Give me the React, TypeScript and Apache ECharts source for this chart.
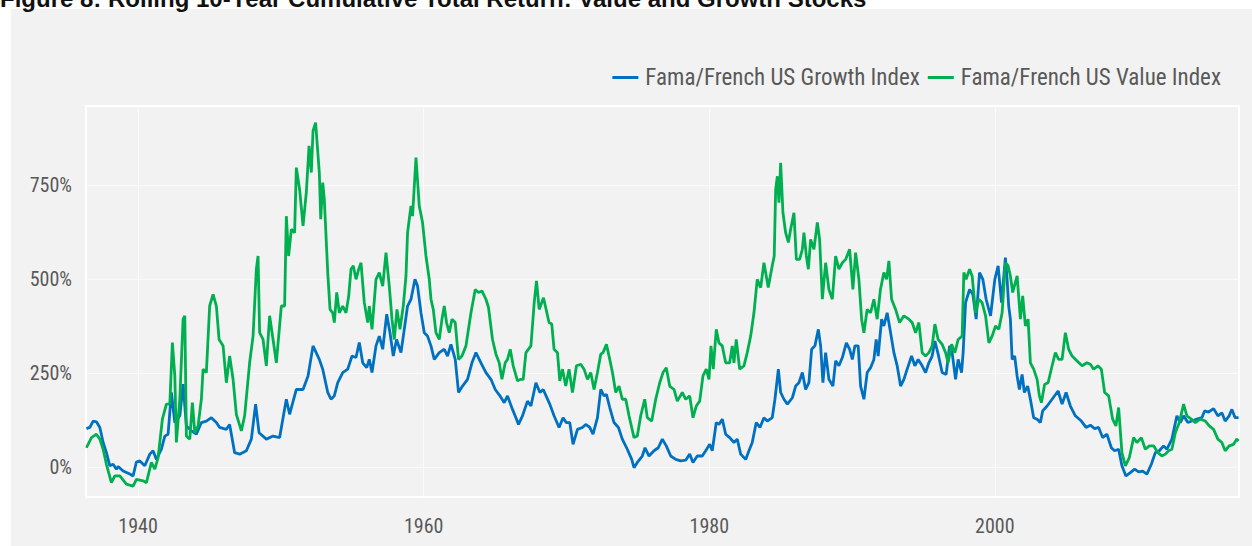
import React, { useEffect, useRef } from "react";
import * as echarts from "echarts";

const titleText = "Figure 8: Rolling 10-Year Cumulative Total Return: Value and Growth Stocks";
const seriesNames = ["Fama/French US Growth Index", "Fama/French US Value Index"];
const xTickLabels = [1940, 1960, 1980, 2000];
const yTickLabels = [0, 250, 500, 750];

// [year, rolling 10-year cumulative total return in %]
const growthIndex: [number, number][] = [
  [1936.38,102],[1936.62,105],[1936.85,122],[1937.08,120],[1937.32,105],[1937.55,65],[1937.78,38],[1938.02,3],[1938.25,7],[1938.48,-6],[1938.60,1],[1938.95,-11],[1939.42,-19],[1939.65,-24],[1939.88,13],[1940.12,16],[1940.47,3],[1940.82,34],[1941.05,43],[1941.28,20],[1941.63,47],[1941.87,82],[1942.10,87],[1942.33,198],[1942.57,118],[1942.92,136],[1943.15,220],[1943.38,109],[1943.73,96],[1944.08,87],[1944.43,118],[1944.78,122],[1945.13,131],[1945.48,118],[1945.71,105],[1946.18,100],[1946.41,113],[1946.76,38],[1947.11,34],[1947.58,43],[1947.93,74],[1948.23,167],[1948.47,91],[1948.98,74],[1949.45,82],[1949.91,78],[1950.38,180],[1950.61,140],[1951.08,206],[1951.55,206],[1951.90,242],[1952.25,322],
  [1952.69,286],[1952.93,260],[1953.28,198],[1953.51,180],[1953.74,189],[1953.98,224],[1954.33,251],[1954.68,260],[1954.98,295],[1955.26,291],[1955.49,331],[1955.73,277],[1956.01,264],[1956.19,286],[1956.38,251],[1956.66,322],[1956.89,348],[1957.13,313],[1957.41,406],[1957.64,357],[1957.87,295],[1958.10,339],[1958.41,304],[1958.64,366],[1958.87,428],[1959.11,446],[1959.39,499],[1959.57,481],[1959.81,410],[1960.04,357],[1960.27,348],[1960.51,322],[1960.74,286],[1961.09,304],[1961.44,313],[1961.67,295],[1961.91,326],[1962.21,286],[1962.44,198],[1962.72,215],[1963.07,233],[1963.38,277],[1963.66,304],[1964.01,277],[1964.36,251],[1964.71,233],[1965.01,206],[1965.34,189],[1965.64,171],[1965.87,189],[1966.22,153],[1966.46,131],[1966.64,113],[1966.92,136],[1967.27,175],[1967.51,162],[1967.86,224],[1968.14,198],[1968.37,206],
  [1968.83,167],[1969.13,136],[1969.48,105],[1969.76,131],[1969.98,118],[1970.23,118],[1970.46,60],[1970.77,100],[1971.12,105],[1971.35,113],[1971.63,105],[1971.86,87],[1972.17,131],[1972.40,206],[1972.63,189],[1972.80,193],[1973.03,158],[1973.33,118],[1973.64,105],[1973.91,74],[1974.26,47],[1974.57,20],[1974.73,-2],[1974.96,12],[1975.31,29],[1975.50,51],[1975.78,29],[1976.13,43],[1976.43,51],[1976.71,74],[1976.99,56],[1977.30,29],[1977.65,20],[1978.00,16],[1978.35,18],[1978.63,34],[1978.86,12],[1979.16,29],[1979.51,29],[1979.75,43],[1980.03,60],[1980.21,43],[1980.49,118],[1980.68,113],[1980.91,127],[1981.15,87],[1981.43,78],[1981.73,65],[1981.96,74],[1982.20,34],[1982.55,20],[1982.78,43],[1983.01,65],[1983.29,118],[1983.55,105],[1983.83,131],[1984.06,122],[1984.41,131],[1984.60,180],
  [1984.84,260],[1985.00,198],[1985.23,180],[1985.47,167],[1985.82,184],[1986.05,215],[1986.28,224],[1986.52,251],[1986.75,206],[1986.98,224],[1987.17,313],[1987.40,322],[1987.64,366],[1987.80,322],[1987.96,224],[1988.15,304],[1988.38,233],[1988.66,215],[1988.85,282],[1989.08,269],[1989.32,291],[1989.60,330],[1989.83,313],[1990.02,286],[1990.20,322],[1990.43,322],[1990.60,215],[1990.83,180],[1991.06,251],[1991.30,264],[1991.53,286],[1991.69,339],[1991.83,295],[1992.07,393],[1992.23,375],[1992.46,410],[1992.70,357],[1992.93,304],[1993.16,269],[1993.40,215],[1993.63,233],[1993.86,260],[1994.17,295],[1994.40,269],[1994.63,286],[1994.91,269],[1995.15,251],[1995.38,277],[1995.61,295],[1995.80,335],[1996.03,300],[1996.31,251],[1996.59,246],[1996.83,322],[1997.01,304],[1997.25,233],[1997.43,286],[1997.67,251],[1997.78,304],[1997.95,437],[1998.23,472],[1998.46,459],[1998.69,393],[1998.93,517],[1999.16,499],[1999.39,446],[1999.70,402],[2000.00,499],[2000.23,535],[2000.47,437],
  [2000.74,557],[2000.86,499],[2000.97,428],[2001.09,393],[2001.21,286],[2001.39,295],[2001.56,242],[2001.72,206],[2001.91,246],[2002.07,198],[2002.30,215],[2002.49,180],[2002.72,131],[2002.96,127],[2003.19,118],[2003.35,149],[2003.66,162],[2004.01,180],[2004.43,202],[2004.71,167],[2004.99,198],[2005.29,162],[2005.64,136],[2006.06,122],[2006.39,105],[2006.69,111],[2006.99,102],[2007.27,105],[2007.55,78],[2007.85,87],[2008.16,51],[2008.39,43],[2008.67,47],[2008.90,3],[2009.18,-24],[2009.49,-15],[2009.79,-6],[2010.07,-13],[2010.35,-11],[2010.65,-19],[2010.96,7],[2011.24,38],[2011.52,43],[2011.82,56],[2012.05,47],[2012.40,74],[2012.75,136],[2012.99,118],[2013.22,136],[2013.52,118],[2013.80,122],[2014.15,127],[2014.50,131],[2014.69,149],[2014.97,146],[2015.32,155],[2015.62,136],[2015.90,144],[2016.13,122],[2016.41,136],[2016.60,153],[2016.83,131],[2017.07,131]
];

const valueIndex: [number, number][] = [
  [1936.38,51],[1936.73,78],[1937.08,87],[1937.32,74],[1937.55,47],[1937.78,7],[1938.13,-42],[1938.37,-24],[1938.72,-24],[1939.18,-46],[1939.65,-51],[1939.88,-33],[1940.35,-37],[1940.58,-42],[1940.93,12],[1941.17,-6],[1941.40,25],[1941.70,127],[1941.98,167],[1942.22,167],[1942.40,331],[1942.57,242],[1942.68,65],[1942.92,180],[1943.15,393],[1943.27,402],[1943.38,82],[1943.62,74],[1943.80,171],[1943.97,91],[1944.20,109],[1944.43,180],[1944.55,260],[1944.78,251],[1945.01,428],[1945.25,459],[1945.48,428],[1945.67,339],[1945.95,322],[1946.18,224],[1946.41,295],[1946.65,233],[1946.88,140],[1947.23,96],[1947.46,136],[1947.81,277],[1948.05,348],[1948.28,526],[1948.40,561],[1948.51,357],[1948.75,339],[1948.98,269],[1949.21,402],[1949.45,339],[1949.68,277],[1950.03,428],[1950.26,428],[1950.38,667],[1950.54,561],[1950.73,632],[1950.96,623],[1951.08,796],[1951.31,738],[1951.55,641],[1951.78,730],[1951.97,854],[1952.13,783],[1952.25,894],[1952.43,916],
  [1952.69,783],[1952.79,659],[1952.93,756],[1953.04,712],[1953.28,517],[1953.44,419],[1953.63,410],[1953.74,384],[1953.91,464],[1954.09,410],[1954.33,428],[1954.56,410],[1954.75,455],[1954.91,526],[1955.07,535],[1955.26,499],[1955.45,526],[1955.61,543],[1955.84,437],[1956.08,384],[1956.19,428],[1956.38,366],[1956.66,499],[1956.89,517],[1957.13,481],[1957.36,570],[1957.59,481],[1957.78,393],[1957.94,339],[1958.13,419],[1958.34,366],[1958.57,428],[1958.76,508],[1958.87,623],[1959.11,694],[1959.22,667],[1959.46,823],[1959.69,694],[1959.92,650],[1960.16,561],[1960.39,499],[1960.51,446],[1960.67,419],[1960.86,357],[1961.09,339],[1961.28,393],[1961.44,428],[1961.60,384],[1961.79,357],[1961.98,393],[1962.21,384],[1962.44,286],[1962.68,295],[1962.96,322],[1963.31,410],[1963.61,472],[1963.84,464],[1964.08,468],[1964.36,446],[1964.54,424],[1964.82,339],[1965.06,300],[1965.29,277],[1965.48,233],[1965.71,277],[1965.87,286],[1966.06,313],[1966.27,269],[1966.57,229],[1966.81,233],[1966.97,233],[1967.16,304],[1967.51,322],[1967.74,437],[1967.90,495],[1968.09,419],[1968.39,450],
  [1968.78,384],[1968.97,380],[1969.13,313],[1969.37,304],[1969.53,229],[1969.72,260],[1969.95,215],[1970.18,260],[1970.42,198],[1970.70,269],[1971.00,273],[1971.23,260],[1971.47,233],[1971.70,251],[1971.93,206],[1972.17,251],[1972.40,300],[1972.56,304],[1972.80,326],[1973.03,286],[1973.22,251],[1973.45,198],[1973.68,215],[1973.91,180],[1974.15,180],[1974.38,136],[1974.73,78],[1974.96,82],[1975.20,136],[1975.48,180],[1975.66,131],[1975.97,122],[1976.25,180],[1976.53,224],[1976.76,251],[1976.99,264],[1977.23,215],[1977.53,206],[1977.76,175],[1978.11,198],[1978.35,180],[1978.63,189],[1978.86,131],[1979.09,162],[1979.33,175],[1979.56,242],[1979.79,260],[1979.98,233],[1980.12,322],[1980.28,260],[1980.49,366],[1980.68,330],[1980.91,322],[1981.15,277],[1981.43,277],[1981.61,322],[1981.73,277],[1981.89,339],[1982.13,260],[1982.43,269],[1982.66,304],[1982.90,348],[1983.13,410],[1983.36,499],[1983.60,477],[1983.83,543],[1984.13,477],[1984.41,535],[1984.55,561],
  [1984.65,738],[1984.77,773],[1984.88,703],[1985.00,809],[1985.16,676],[1985.35,623],[1985.54,597],[1985.70,632],[1985.93,676],[1986.10,552],[1986.33,552],[1986.52,579],[1986.63,623],[1986.80,561],[1986.94,526],[1987.10,605],[1987.33,579],[1987.57,650],[1987.73,605],[1987.92,446],[1988.15,543],[1988.38,472],[1988.62,446],[1988.85,561],[1989.08,526],[1989.32,543],[1989.55,552],[1989.83,579],[1990.06,472],[1990.25,570],[1990.48,499],[1990.67,393],[1990.83,357],[1991.06,419],[1991.30,410],[1991.53,446],[1991.76,393],[1991.99,472],[1992.23,517],[1992.42,499],[1992.58,548],[1992.77,446],[1993.05,419],[1993.33,384],[1993.63,402],[1993.98,393],[1994.21,384],[1994.45,357],[1994.68,384],[1994.91,304],[1995.15,295],[1995.38,304],[1995.61,322],[1995.80,380],[1996.03,339],[1996.31,326],[1996.55,304],[1996.73,277],[1996.97,326],[1997.20,304],[1997.43,339],[1997.71,348],[1997.83,517],[1997.99,499],[1998.23,526],[1998.41,508],[1998.65,410],[1998.88,446],[1999.11,437],[1999.35,402],[1999.58,330],[1999.81,348],[2000.05,375],[2000.28,366],[2000.51,410],
  [2000.74,543],[2000.93,535],[2001.09,508],[2001.25,464],[2001.56,508],[2001.79,393],[2001.95,455],[2002.14,375],[2002.33,393],[2002.49,277],[2002.72,260],[2002.96,233],[2003.12,189],[2003.26,171],[2003.49,220],[2003.73,224],[2004.01,269],[2004.24,304],[2004.47,286],[2004.71,286],[2004.94,357],[2005.17,313],[2005.41,295],[2005.76,282],[2006.11,269],[2006.45,277],[2006.69,273],[2006.92,260],[2007.22,269],[2007.46,260],[2007.69,198],[2007.97,189],[2008.25,127],[2008.48,109],[2008.67,158],[2008.90,38],[2009.14,3],[2009.42,25],[2009.72,78],[2009.95,65],[2010.26,78],[2010.54,47],[2010.82,56],[2011.12,56],[2011.42,38],[2011.70,29],[2011.94,34],[2012.17,43],[2012.40,47],[2012.64,91],[2012.92,118],[2013.22,167],[2013.45,136],[2013.76,127],[2014.04,118],[2014.39,127],[2014.74,122],[2015.02,109],[2015.32,100],[2015.62,74],[2015.90,65],[2016.13,43],[2016.41,56],[2016.72,60],[2016.95,74],[2017.07,69]
];

const FONT = "'Liberation Sans Narrow', 'Arial Narrow', 'Roboto Condensed', sans-serif";
const TEXT_COLOR = "#595959";

export default function App() {
  const ref = useRef<HTMLDivElement>(null);

  useEffect(() => {
    if (!ref.current) return;
    const chart = echarts.init(ref.current, null, { renderer: "svg" });
    chart.setOption({
      animation: false,
      backgroundColor: "#ffffff",
      graphic: [
        {
          type: "rect",
          z: -100,
          silent: true,
          shape: { x: 11, y: 9, width: 1252 - 11, height: 546 - 9 },
          style: { fill: "#f2f2f2" },
        },
        {
          type: "text",
          z: 10,
          x: 0,
          y: 10,
          style: {
            text: titleText,
            font: "bold 24px 'Liberation Sans', Arial, sans-serif",
            fill: "#111111",
            verticalAlign: "bottom",
          },
        },
      ],
      legend: {
        data: seriesNames,
        right: 26,
        top: 61,
        icon: "rect",
        itemWidth: 26,
        itemHeight: 3,
        itemGap: 8,
        textStyle: {
          fontFamily: FONT,
          fontSize: 23,
          color: TEXT_COLOR,
          padding: [0, 0, 0, 2],
        },
      },
      grid: {
        left: 86,
        right: 13,
        top: 106,
        bottom: 49,
        show: true,
        backgroundColor: "transparent",
        borderColor: "#ffffff",
        borderWidth: 2,
      },
      xAxis: {
        type: "value",
        min: 1936.35,
        max: 2017.1,
        axisLine: { show: false },
        axisTick: { show: false, customValues: xTickLabels },
        axisLabel: {
          customValues: xTickLabels,
          formatter: (v: number) => String(Math.round(v)),
          fontFamily: FONT,
          fontSize: 20,
          color: TEXT_COLOR,
          margin: 19,
        },
        splitLine: { show: true, lineStyle: { color: "#fafafa", width: 1 } },
      },
      yAxis: {
        type: "value",
        min: -80,
        max: 960,
        axisLine: { show: false },
        axisTick: { show: false, customValues: yTickLabels },
        axisLabel: {
          customValues: yTickLabels,
          formatter: (v: number) => `${v}%`,
          fontFamily: FONT,
          fontSize: 20,
          color: TEXT_COLOR,
          margin: 14,
        },
        splitLine: { show: true, lineStyle: { color: "#fafafa", width: 1 } },
      },
      series: [
        {
          name: seriesNames[0],
          type: "line",
          data: growthIndex,
          showSymbol: false,
          color: "#0070C0",
          lineStyle: { width: 2.8, color: "#0070C0" },
          z: 3,
        },
        {
          name: seriesNames[1],
          type: "line",
          data: valueIndex,
          showSymbol: false,
          color: "#00B050",
          lineStyle: { width: 2.8, color: "#00B050" },
          z: 4,
        },
      ],
    });
    return () => chart.dispose();
  }, []);

  return (
    <div
      ref={ref}
      style={{ position: "fixed", left: 0, top: 0, width: 1252, height: 546 }}
    />
  );
}
